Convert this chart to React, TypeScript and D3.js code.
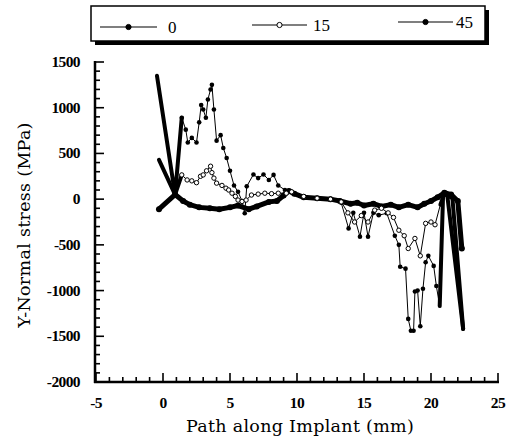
import React from "react";
import * as d3 from "d3";

const series0: [number, number][] = [
  [-0.3, -110], [0.9, 50], [1.5, -20], [2.0, -60], [2.7, -90], [3.5, -100], [4.2, -110],
  [5.0, -90], [5.6, -70], [6.4, -110], [7.0, -80], [7.9, -30], [8.5, -20], [9.0, 40],
  [9.4, 90], [9.8, 60], [10.5, 20], [11.5, 10], [12.5, 0], [13.2, -20], [14, -50],
  [14.5, -40], [15, -70], [15.7, -50], [16.3, -80], [17, -60], [17.6, -90], [18.3, -60],
  [19, -90], [19.5, -50], [20, -20], [20.5, 20], [21, 70], [21.5, 50], [22, -20], [22.3, -540],
];

const series15: [number, number][] = [
  [-0.3, 430], [0.9, 50], [1.4, 265], [1.8, 210], [2.15, 200], [2.5, 180], [2.8, 250],
  [3.0, 265], [3.25, 310], [3.55, 360], [3.65, 290], [3.8, 230], [4.0, 175], [4.4, 150],
  [4.7, 120], [4.9, 100], [5.15, 65], [5.4, 30], [5.6, -10], [5.9, -25], [6.2, -10],
  [6.6, 45], [7.1, 55], [7.6, 65], [8.1, 60], [8.6, 65], [9.2, 65], [9.6, 80], [10.5, 30],
  [11.5, 10], [12.5, 0], [13.3, -30], [13.8, -150], [14.3, -250], [14.8, -180], [15.3, -250],
  [15.8, -120], [16.3, -100], [16.8, -150], [17.2, -200], [17.6, -340], [18.0, -400],
  [18.3, -540], [18.8, -430], [19.2, -620], [19.6, -265], [20.0, -250], [20.3, -280],
  [20.7, -60], [21, 60], [21.6, 10], [22.4, -1420],
];

const series45: [number, number][] = [
  [-0.45, 1350], [0.9, 50], [1.4, 890], [1.7, 760], [1.85, 620], [2.15, 670], [2.5, 620],
  [2.7, 840], [2.85, 1030], [3.0, 980], [3.2, 890], [3.35, 1090], [3.55, 1200], [3.65, 1250],
  [3.8, 980], [4.0, 640], [4.3, 700], [4.5, 560], [4.75, 450], [5.0, 310], [5.3, 150],
  [5.6, 80], [5.9, -20], [6.1, -155], [6.25, 140], [6.75, 270], [7.1, 230], [7.5, 270],
  [7.9, 210], [8.25, 265], [8.6, 150], [9.1, 100], [9.6, 80], [10.5, 30], [11.5, 10],
  [12.5, 0], [13.3, -40], [13.85, -320], [14.2, -150], [14.7, -410], [15.0, -150],
  [15.3, -410], [15.7, -150], [16.1, -175], [16.7, -155], [17.3, -400], [17.6, -500],
  [17.7, -740], [18.1, -760], [18.3, -1310], [18.5, -1440], [18.7, -1440], [18.8, -1010],
  [19.0, -1000], [19.2, -1390], [19.4, -980], [19.6, -690], [19.8, -620], [20.2, -730],
  [20.4, -950], [20.65, -1170], [20.9, 40], [21.2, 60], [22.4, -1420],
];

const legendLabels = ["0", "15", "45"];
const xTicks = [-5, 0, 5, 10, 15, 20, 25];
const yTicks = [-2000, -1500, -1000, -500, 0, 500, 1000, 1500];

const W = 509;
const H = 439;

export default function App() {
  const x = d3.scaleLinear().domain([-5, 25]).range([96, 498]);
  const y = d3.scaleLinear().domain([-2000, 1500]).range([382, 62]);
  const line = d3
    .line<[number, number]>()
    .x((d) => x(d[0]))
    .y((d) => y(d[1]));

  const xMinor = d3.range(-5, 25.01, 1);
  const yMinor = d3.range(-2000, 1500.01, 100);

  const thickLeft = (s: [number, number][]) => s.filter((d) => d[0] <= 1.45);
  const thickRight = (s: [number, number][]) => s.filter((d) => d[0] >= 20.6);
  const thinLine = (s: [number, number][]) => s.filter((d) => d[0] >= 0.9 && d[0] <= 20.7);
  const thinMarks = (s: [number, number][]) => s.filter((d) => d[0] > 1.0 && d[0] < 20.6);

  const serif = "'DejaVu Serif', serif";
  const numFont = "'Liberation Serif', serif";

  return (
    <svg
      width={W}
      height={H}
      style={{ position: "absolute", left: 0, top: 0, background: "#fff" }}
    >
      <rect x={0} y={0} width={W} height={H} fill="#fff" />

      {/* Legend */}
      <rect x={95} y={10} width={394} height={35} fill="#000" />
      <rect x={91} y={6} width={394} height={35} fill="#fff" stroke="#000" strokeWidth={1.5} />
      {[
        { x1: 100, x2: 157, yy: 27, lx: 168, open: false },
        { x1: 252, x2: 307, yy: 25, lx: 313, open: true },
        { x1: 398, x2: 453, yy: 22, lx: 456, open: false },
      ].map((it, i) => (
        <g key={i}>
          <line x1={it.x1} x2={it.x2} y1={it.yy} y2={it.yy} stroke="#000" strokeWidth={1.2} />
          <circle
            cx={(it.x1 + it.x2) / 2}
            cy={it.yy}
            r={2.6}
            fill={it.open ? "#fff" : "#000"}
            stroke="#000"
            strokeWidth={1}
          />
          <text x={it.lx} y={it.yy + 6} fontFamily={numFont} fontSize={17}>
            {legendLabels[i]}
          </text>
        </g>
      ))}

      {/* Axes */}
      <line x1={95} x2={95} y1={61} y2={383} stroke="#000" strokeWidth={2.5} />
      <line x1={94} x2={499} y1={382} y2={382} stroke="#000" strokeWidth={2.5} />
      {yMinor.map((v) => {
        const major = Math.abs(v % 500) < 1e-6;
        return (
          <line key={"ym" + v} x1={95} x2={95 + (major ? 9 : 5)} y1={y(v)} y2={y(v)} stroke="#000" strokeWidth={1.6} />
        );
      })}
      {xMinor.map((v) => {
        const major = Math.abs(v % 5) < 1e-6;
        return (
          <line key={"xm" + v} x1={x(v)} x2={x(v)} y1={382} y2={382 - (major ? 9 : 5)} stroke="#000" strokeWidth={1.6} />
        );
      })}
      {yTicks.map((v) => (
        <text
          key={"yt" + v}
          x={80}
          y={y(v) + 5}
          textAnchor="end"
          fontFamily={numFont}
          fontWeight="bold"
          fontSize={15.5}
          letterSpacing={-0.6}
        >
          {v}
        </text>
      ))}
      {xTicks.map((v) => (
        <text
          key={"xt" + v}
          x={x(v)}
          y={408}
          textAnchor="middle"
          fontFamily={numFont}
          fontWeight="bold"
          fontSize={15.5}
          letterSpacing={-0.6}
        >
          {v}
        </text>
      ))}
      <text x={300} y={432} textAnchor="middle" fontFamily={serif} fontSize={17.5} letterSpacing={0.3}>
        Path along Implant (mm)
      </text>
      <text
        transform="translate(30,225) rotate(-90)"
        textAnchor="middle"
        fontFamily={serif}
        fontSize={17.5}
        letterSpacing={0.3}
      >
        Y-Normal stress (MPa)
      </text>

      {/* Series 0 (thick) */}
      <path d={line(series0) || ""} fill="none" stroke="#000" strokeWidth={5} strokeLinejoin="round" strokeLinecap="round" />
      {series0.map((d, i) => (
        <circle key={"p0" + i} cx={x(d[0])} cy={y(d[1])} r={3} fill="#000" />
      ))}

      {/* Series 45 */}
      <path d={line(thinLine(series45)) || ""} fill="none" stroke="#000" strokeWidth={1} />
      <path d={line(thickLeft(series45)) || ""} fill="none" stroke="#000" strokeWidth={4} strokeLinejoin="round" strokeLinecap="round" />
      <path d={line(thickRight(series45)) || ""} fill="none" stroke="#000" strokeWidth={4} strokeLinejoin="round" strokeLinecap="round" />
      {thinMarks(series45).map((d, i) => (
        <circle key={"p45" + i} cx={x(d[0])} cy={y(d[1])} r={2.3} fill="#000" />
      ))}

      {/* Series 15 */}
      <path d={line(thinLine(series15)) || ""} fill="none" stroke="#000" strokeWidth={1} />
      <path d={line(thickLeft(series15)) || ""} fill="none" stroke="#000" strokeWidth={4} strokeLinejoin="round" strokeLinecap="round" />
      <path d={line(thickRight(series15)) || ""} fill="none" stroke="#000" strokeWidth={4} strokeLinejoin="round" strokeLinecap="round" />
      {thinMarks(series15).map((d, i) => (
        <circle key={"p15" + i} cx={x(d[0])} cy={y(d[1])} r={2.2} fill="#fff" stroke="#000" strokeWidth={1} />
      ))}
    </svg>
  );
}
